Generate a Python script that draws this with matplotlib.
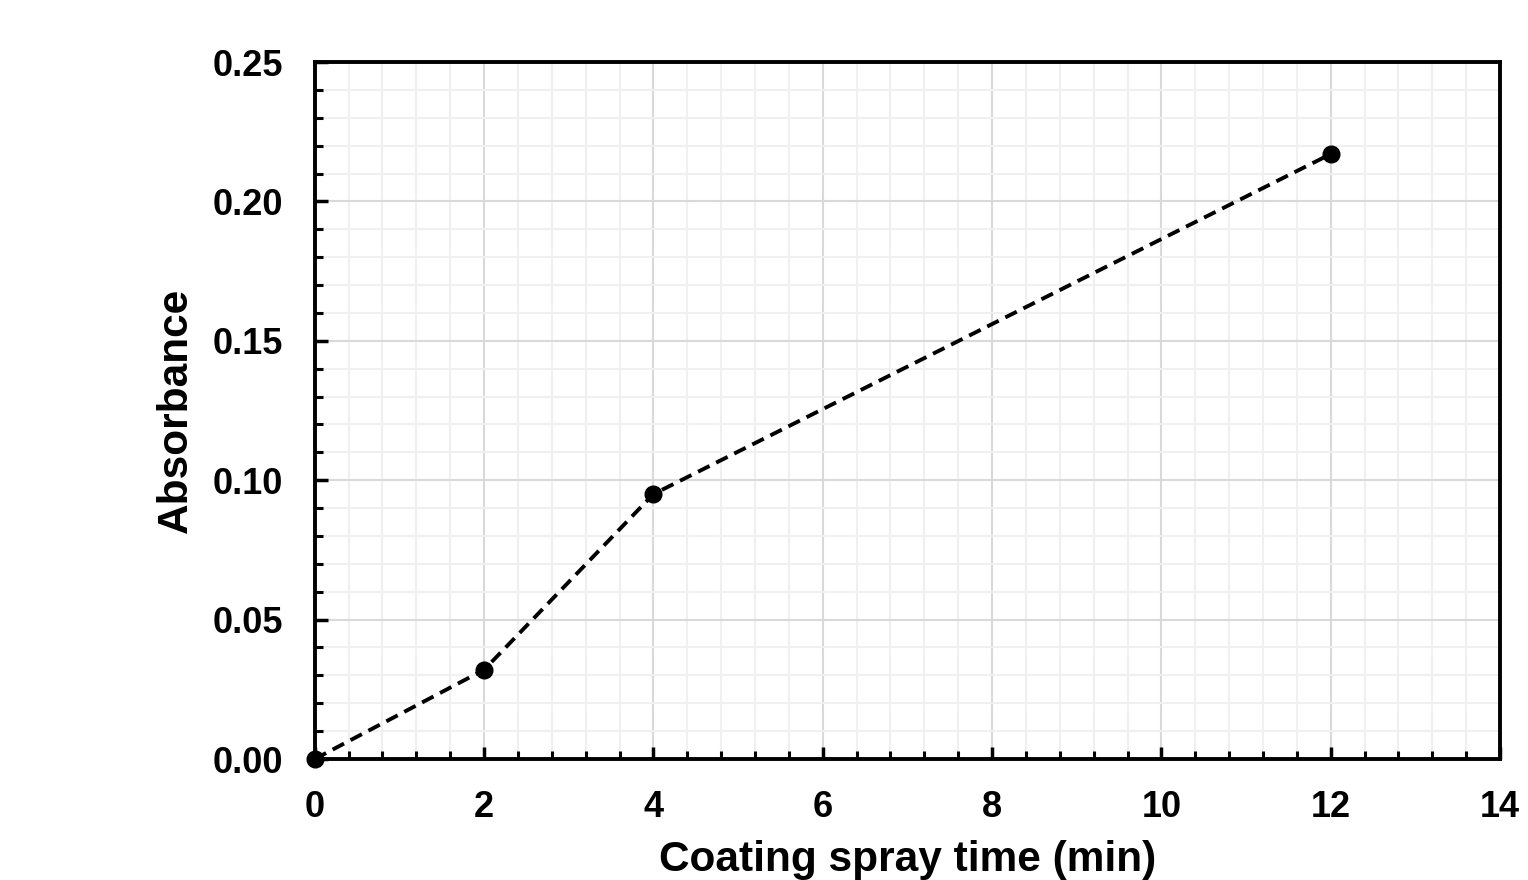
import numpy as np
import matplotlib.pyplot as plt
from matplotlib.ticker import MultipleLocator

spray_time = [0, 2, 4, 12]
absorbance = [0.0, 0.032, 0.095, 0.217]

x_ticks = [0, 2, 4, 6, 8, 10, 12, 14]
y_ticks = [0.00, 0.05, 0.10, 0.15, 0.20, 0.25]

plt.rcParams["font.family"] = ["Liberation Sans", "DejaVu Sans"]
plt.rcParams["font.weight"] = "bold"

fig = plt.figure(figsize=(15.28, 8.8), dpi=100)
ax = fig.add_axes([0.206, 0.1375, 0.7757, 0.792])

ax.plot(spray_time, absorbance, color="black", linestyle="--", linewidth=2.8,
        dashes=(3.3, 1.9), marker="o", markersize=12, zorder=3, clip_on=False)

ax.set_xlim(0, 14)
ax.set_ylim(0, 0.25)
ax.set_xticks(x_ticks)
ax.set_yticks(y_ticks)
ax.set_xticklabels([str(t) for t in x_ticks])
ax.set_yticklabels([f"{t:.2f}" for t in y_ticks])
ax.xaxis.set_minor_locator(MultipleLocator(0.4))
ax.yaxis.set_minor_locator(MultipleLocator(0.01))

ax.grid(which="major", color="#d9d9d9", linewidth=1.5)
ax.grid(which="minor", color="#f0f0f0", linewidth=1.5)
ax.set_axisbelow(True)

for side in ax.spines.values():
    side.set_linewidth(2.8)
    side.set_color("black")

ax.tick_params(which="major", direction="in", length=9, width=2.5,
               labelsize=26, top=False, right=False)
ax.tick_params(axis="x", which="major", pad=22)
ax.tick_params(axis="y", which="major", pad=23)
ax.tick_params(which="minor", direction="in", length=6, width=2.2,
               top=False, right=False)

ax.set_xlabel("Coating spray time (min)", fontsize=30.5, fontweight="bold", labelpad=11)
ax.set_ylabel("Absorbance", fontsize=30.5, fontweight="bold", labelpad=12)

fig.savefig("out.png", dpi=100)
